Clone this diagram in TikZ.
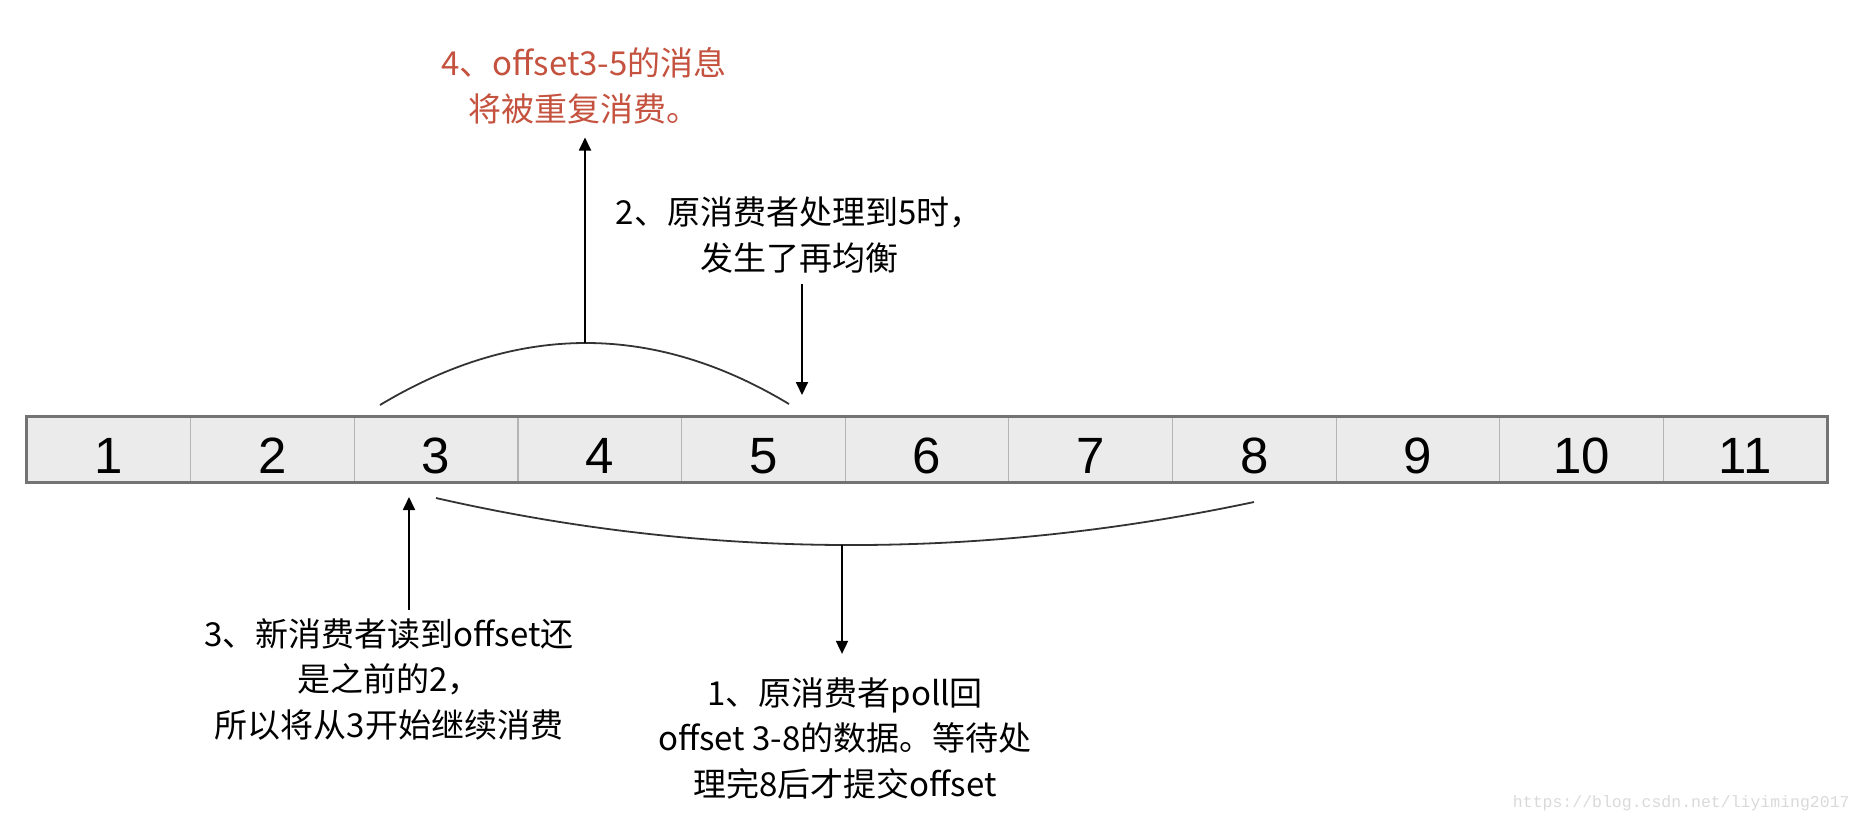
\documentclass[tikz,border=0pt]{standalone}
\usepackage{fontspec}
\setmainfont{Liberation Sans}
\newfontfamily\cjk{Noto Sans CJK SC}
\newfontfamily\wmfont{Liberation Mono}
\usetikzlibrary{arrows.meta,calc}
\definecolor{cellgray}{HTML}{EBEBEB}
\definecolor{cellline}{HTML}{B4B4B4}
\definecolor{framegray}{HTML}{737373}
\definecolor{notered}{HTML}{C4523E}
\definecolor{markgray}{HTML}{D9D9D9}

\begin{document}
\begin{tikzpicture}[x=0.5pt,y=-0.5pt,
	cell/.style={draw=cellline,fill=cellgray,line width=0.6pt,minimum width=81.8pt,minimum height=32.5pt,
		inner sep=0pt,text height=23.5pt,text depth=0pt,font=\fontsize{25.5}{30}\selectfont},
	note/.style={align=center,inner sep=0pt,font=\cjk\fontsize{16.5}{22.75}\selectfont},
	brace/.style={draw=black!80,line width=0.9pt},
	arr/.style={-{Triangle[length=6.5pt,width=6pt]},line width=0.9pt}]
	\useasboundingbox (0,0) rectangle (1862,826);
	\foreach \i in {1,...,11}
		\node[cell] (c\i) at ({27+163.64*(\i-0.5)},449.5) {\i};
	\draw[framegray,line width=1.2pt] (c1.north west) rectangle (c11.south east);
	\node[note,text=notered] (dup) at (584,86) {4、offset3-5的消息\\将被重复消费。};
	\node[note] (stop) at (799,235) {2、原消费者处理到5时，\\发生了再均衡};
	\node[note] (newc) at (389,679) {3、新消费者读到offset还\\是之前的2，\\所以将从3开始继续消费};
	\node[note] (poll) at (845,738) {1、原消费者poll回\\offset 3-8的数据。等待处\\理完8后才提交offset};
	\node[font=\wmfont\fontsize{8.25}{10}\selectfont,text=markgray,anchor=east,inner sep=0pt] (mark) at (1850,803) {https://blog.csdn.net/liyiming2017};
	\coordinate (oldtop) at (585,343);
	\coordinate (rebal) at (802,395);
	\coordinate (newpos) at (409,497);
	\coordinate (pollmid) at (842,545);
	\draw[brace] (380,405) .. controls (517,322.7) and (653.3,322.3) .. (789,404);
	\draw[brace] (436,498) .. controls (704.7,559.3) and (977.3,560.7) .. (1254,502);
	\draw[arr] (oldtop) -- ($(oldtop |- dup.south)+(0,13)$);
	\draw[arr] ($(rebal |- stop.south)+(0,11)$) -- (rebal);
	\draw[arr] ($(newpos |- newc.north)+(0,-8)$) -- (newpos);
	\draw[arr] (pollmid) -- ($(pollmid |- poll.north)+(0,-23)$);
\end{tikzpicture}
\end{document}
